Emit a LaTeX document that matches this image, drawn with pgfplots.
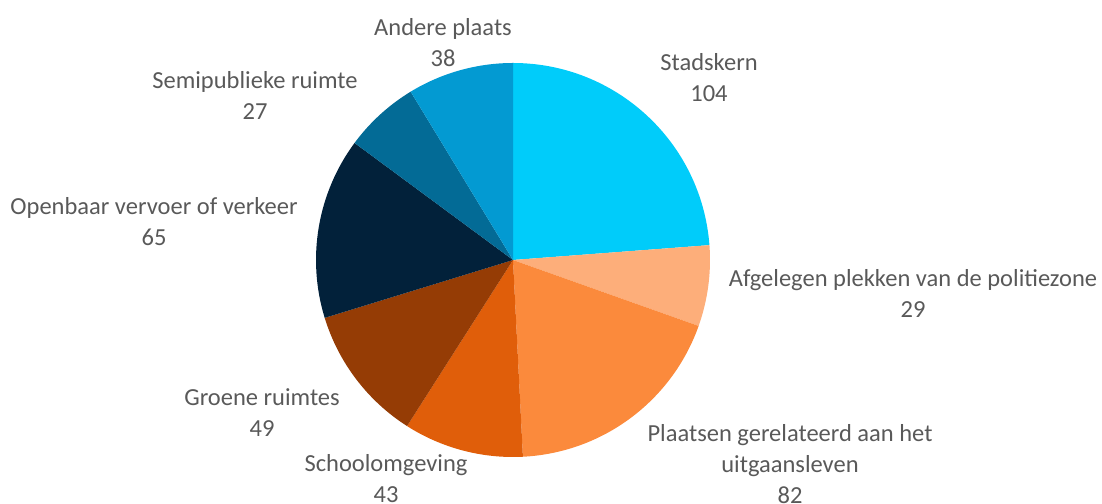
\documentclass[border=0pt]{standalone}
\usepackage{pgfplots}
\pgfplotsset{compat=1.18}
\usepackage{pgfplotstable}
\usepackage{fontspec}
\setmainfont{Carlito}

\definecolor{c0}{HTML}{00CCFA}
\definecolor{c1}{HTML}{FDAE7A}
\definecolor{c2}{HTML}{FB8A3C}
\definecolor{c3}{HTML}{E05E0A}
\definecolor{c4}{HTML}{953C05}
\definecolor{c5}{HTML}{02213A}
\definecolor{c6}{HTML}{036B96}
\definecolor{c7}{HTML}{039AD2}
\definecolor{lblgray}{HTML}{595959}

\tikzset{lbl/.style={align=center, text=lblgray, inner sep=0pt,
    font=\fontsize{24.5}{31}\selectfont}}

% slices clockwise from 12 o'clock
\pgfplotstableread[col sep=comma]{
place,value
Stadskern,104
Afgelegen,29
Plaatsen,82
Schoolomgeving,43
Groene,49
Openbaar,65
Semipubliek,27
Andere,38
}\piedata

\begin{document}
\begin{tikzpicture}
% total and start/end angles of each slice
\gdef\total{0}
\pgfplotstableforeachcolumnelement{value}\of\piedata\as\v{%
  \pgfmathsetmacro\tmp{\total+\v}\xdef\total{\tmp}}
\gdef\cum{0}
\pgfplotstableforeachcolumnelement{value}\of\piedata\as\v{%
  \pgfmathsetmacro\sa{90-\cum/\total*360}%
  \pgfmathsetmacro\nc{\cum+\v}%
  \pgfmathsetmacro\ea{90-\nc/\total*360}%
  \expandafter\xdef\csname s\pgfplotstablerow\endcsname{\sa}%
  \expandafter\xdef\csname e\pgfplotstablerow\endcsname{\ea}%
  \xdef\cum{\nc}}

\begin{axis}[
    hide axis,
    scale only axis,
    x=1pt, y=1pt,
    xmin=0, xmax=1102, ymin=0, ymax=503,
    clip=false
]
\path (axis cs:0,0) rectangle (axis cs:1102,503);
\pgfplotsinvokeforeach{0,...,7}{
  \fill[c#1] (axis cs:513,243) -- ++(\csname s#1\endcsname:197pt)
    arc[start angle=\csname s#1\endcsname, end angle=\csname e#1\endcsname, radius=197pt] -- cycle;
}
\node[lbl] at (axis cs:709,425) {Stadskern\\104};
\node[lbl] at (axis cs:913,209) {Afgelegen plekken van de politiezone\\29};
\node[lbl] at (axis cs:790,39) {Plaatsen gerelateerd aan het\\uitgaansleven\\82};
\node[lbl] at (axis cs:386,24) {Schoolomgeving\\43};
\node[lbl] at (axis cs:262,90) {Groene ruimtes\\49};
\node[lbl] at (axis cs:154,281) {Openbaar vervoer of verkeer\\65};
\node[lbl] at (axis cs:255,407) {Semipublieke ruimte\\27};
\node[lbl] at (axis cs:443,460) {Andere plaats\\38};
\end{axis}
\end{tikzpicture}
\end{document}
